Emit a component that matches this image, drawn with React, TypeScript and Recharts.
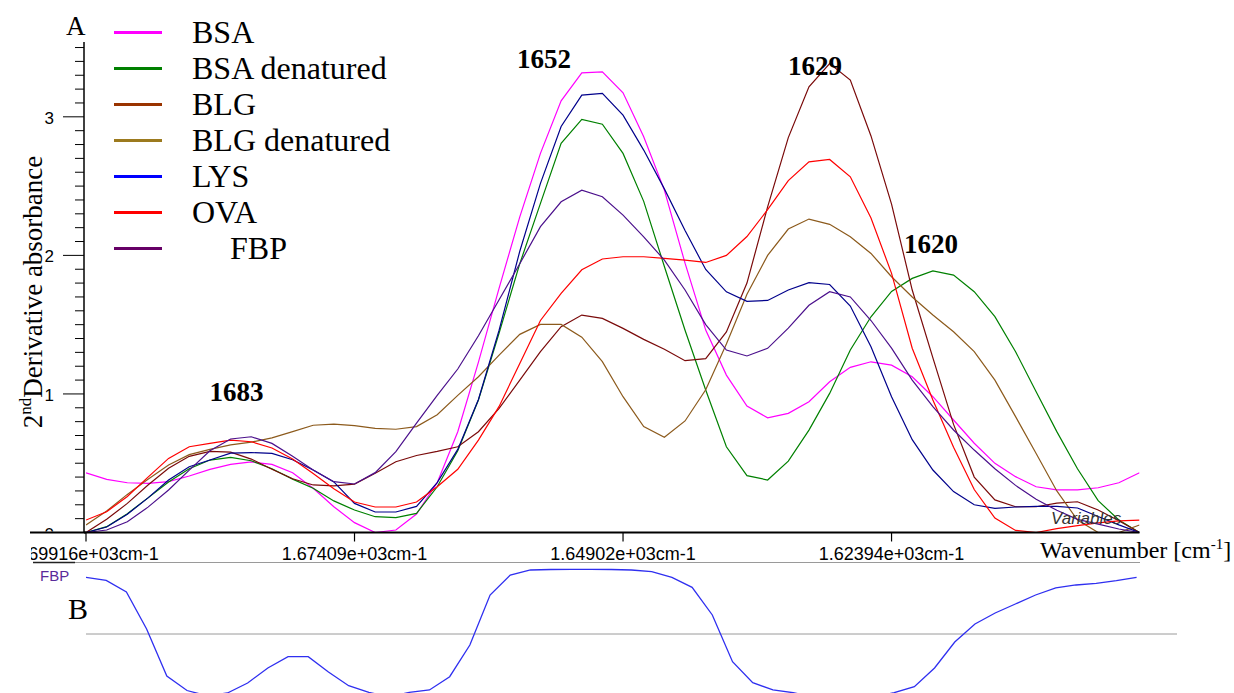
import React from 'react';
import { LineChart, Line, XAxis, YAxis, ReferenceDot, ReferenceLine, Legend } from 'recharts';

// ---- Panel A data: 2nd derivative spectra (x = wavenumber, cm-1) ----
const wavenumbers = [
  1699.16, 1697.23, 1695.30, 1693.37, 1691.45, 1689.52, 1687.59, 1685.66, 1683.73, 1681.80,
  1679.87, 1677.95, 1676.02, 1674.09, 1672.16, 1670.23, 1668.30, 1666.37, 1664.45, 1662.52,
  1660.59, 1658.66, 1656.73, 1654.80, 1652.87, 1650.95, 1649.02, 1647.09, 1645.16, 1643.23,
  1641.30, 1639.37, 1637.45, 1635.52, 1633.59, 1631.66, 1629.73, 1627.80, 1625.87, 1623.95,
  1622.02, 1620.09, 1618.16, 1616.23, 1614.30, 1612.37, 1610.45, 1608.52, 1606.59, 1604.66,
  1602.73, 1600.80,
];

const bsa = [
  0.431, 0.384, 0.359, 0.355, 0.367, 0.408, 0.456, 0.492, 0.509, 0.492,
  0.431, 0.319, 0.186, 0.071, 0.0, 0.018, 0.133, 0.36, 0.727, 1.23,
  1.764, 2.278, 2.736, 3.115, 3.317, 3.325, 3.173, 2.856, 2.471, 1.944,
  1.461, 1.136, 0.913, 0.828, 0.86, 0.944, 1.088, 1.192, 1.232, 1.208,
  1.124, 0.98, 0.812, 0.644, 0.499, 0.403, 0.33, 0.307, 0.307, 0.323,
  0.359, 0.431,
];
const bsaDenatured = [
  0.0, 0.042, 0.136, 0.25, 0.365, 0.46, 0.523, 0.542, 0.518, 0.46,
  0.385, 0.32, 0.228, 0.162, 0.114, 0.107, 0.138, 0.33, 0.59, 0.956,
  1.44, 1.94, 2.375, 2.808, 2.981, 2.947, 2.736, 2.39, 1.92, 1.46,
  1.028, 0.619, 0.41, 0.379, 0.515, 0.739, 1.004, 1.317, 1.557, 1.74,
  1.834, 1.888, 1.858, 1.738, 1.558, 1.305, 1.016, 0.728, 0.46, 0.23,
  0.09, 0.0,
];
const blg = [
  0.0, 0.095, 0.21, 0.343, 0.463, 0.55, 0.585, 0.58, 0.53, 0.457,
  0.388, 0.343, 0.336, 0.349, 0.427, 0.511, 0.556, 0.585, 0.619, 0.727,
  0.896, 1.1, 1.305, 1.485, 1.569, 1.545, 1.473, 1.394, 1.322, 1.24,
  1.255, 1.448, 1.8, 2.35, 2.85, 3.217, 3.385, 3.265, 2.862, 2.37,
  1.75, 1.26, 0.78, 0.4, 0.235, 0.186, 0.186, 0.212, 0.222, 0.162,
  0.085, 0.0,
];
const blgDenatured = [
  0.054, 0.155, 0.275, 0.385, 0.487, 0.562, 0.6, 0.633, 0.652, 0.683,
  0.728, 0.774, 0.782, 0.771, 0.752, 0.745, 0.764, 0.85, 0.99, 1.124,
  1.28, 1.43, 1.502, 1.502, 1.41, 1.233, 0.98, 0.764, 0.687, 0.805,
  1.03, 1.36, 1.72, 2.0, 2.19, 2.262, 2.224, 2.134, 2.014, 1.846,
  1.7, 1.57, 1.449, 1.305, 1.1, 0.836, 0.57, 0.3, 0.09, 0.0,
  0.0, 0.054,
];
const lys = [
  0.0, 0.04, 0.132, 0.25, 0.379, 0.475, 0.523, 0.573, 0.577, 0.571,
  0.525, 0.451, 0.365, 0.21, 0.148, 0.148, 0.188, 0.36, 0.6, 0.96,
  1.46, 2.03, 2.52, 2.93, 3.157, 3.169, 3.012, 2.76, 2.48, 2.18,
  1.898, 1.737, 1.668, 1.675, 1.75, 1.803, 1.79, 1.634, 1.34, 0.98,
  0.67, 0.451, 0.295, 0.2, 0.174, 0.184, 0.188, 0.188, 0.177, 0.115,
  0.055, 0.0,
];
const ova = [
  0.09, 0.15, 0.26, 0.4, 0.535, 0.619, 0.643, 0.667, 0.655, 0.61,
  0.53, 0.425, 0.315, 0.22, 0.184, 0.184, 0.22, 0.33, 0.456, 0.667,
  0.91, 1.22, 1.53, 1.726, 1.896, 1.974, 1.99, 1.99, 1.978, 1.966,
  1.949, 2.0, 2.136, 2.33, 2.54, 2.675, 2.692, 2.567, 2.27, 1.87,
  1.33, 0.956, 0.615, 0.31, 0.104, 0.015, 0.0, 0.028, 0.05, 0.07,
  0.084, 0.09,
];
const fbp = [
  0.0, 0.018, 0.078, 0.183, 0.307, 0.45, 0.59, 0.675, 0.691, 0.643,
  0.55, 0.451, 0.367, 0.35, 0.432, 0.583, 0.79, 0.99, 1.18, 1.42,
  1.68, 1.94, 2.207, 2.387, 2.471, 2.423, 2.291, 2.134, 1.966, 1.75,
  1.5, 1.317, 1.274, 1.329, 1.475, 1.64, 1.738, 1.7, 1.53, 1.33,
  1.1, 0.908, 0.74, 0.595, 0.46, 0.34, 0.24, 0.16, 0.095, 0.06,
  0.025, 0.0,
];

const seriesNames = ['BSA', 'BSA denatured', 'BLG', 'BLG denatured', 'LYS', 'OVA', 'FBP'];
const seriesValues = [bsa, bsaDenatured, blg, blgDenatured, lys, ova, fbp];
const lineColors = ['#ff00ff', '#008000', '#7a0a0a', '#8c5a1c', '#00008b', '#ff0000', '#4b108c'];
const legendColors = ['#ff00ff', '#008000', '#993300', '#9c7a1e', '#0000ff', '#ff0000', '#660066'];

const xTickValues = [1699.16, 1674.09, 1649.02, 1623.95];
const xTickLabels = ['1.69916e+03cm-1', '1.67409e+03cm-1', '1.64902e+03cm-1', '1.62394e+03cm-1'];
const yTicks = [
  0, 0.1, 0.2, 0.3, 0.4, 0.5, 0.6, 0.7, 0.8, 0.9,
  1, 1.1, 1.2, 1.3, 1.4, 1.5, 1.6, 1.7, 1.8, 1.9,
  2, 2.1, 2.2, 2.3, 2.4, 2.5, 2.6, 2.7, 2.8, 2.9,
  3, 3.1, 3.2, 3.3, 3.4, 3.5,
];

const peakLabels = ['1683', '1652', '1629', '1620'];
const peakWavenumbers = [1685.11, 1656.4, 1631.1, 1620.27];
const peakHeights = [1.021, 3.42, 3.373, 2.089];

// ---- Panel B data: FBP loading over variables ----
const fbpLoading = [
  0.0945, 0.0892, 0.07, 0.0083, -0.07, -0.0942, -0.103, -0.0983, -0.0817, -0.0567,
  -0.0378, -0.0378, -0.0633, -0.0862, -0.0972, -0.105, -0.0972, -0.0933, -0.0712, -0.0183,
  0.065, 0.0983, 0.1067, 0.1075, 0.1078, 0.1078, 0.1075, 0.1067, 0.1038, 0.0945,
  0.0778, 0.0317, -0.0462, -0.0812, -0.0933, -0.0978, -0.105, -0.108, -0.108, -0.105,
  -0.0978, -0.0878, -0.0567, -0.0133, 0.0167, 0.035, 0.05, 0.065, 0.0767, 0.0817,
  0.0845, 0.0888, 0.0945,
];

const dataA = wavenumbers.map((wn, i) => {
  const row: Record<string, number> = { wn };
  seriesNames.forEach((name, k) => {
    row[name] = seriesValues[k][i];
  });
  return row;
});
const dataB = fbpLoading.map((v, i) => ({ idx: i, FBP: v }));

const SERIF = "'Liberation Serif', 'Times New Roman', serif";
const SANS = "'Liberation Sans', Arial, sans-serif";

const YTick = (props: any) => {
  const { x, y, payload } = props;
  const v = payload.value as number;
  const major = Math.abs(v - Math.round(v)) < 1e-6;
  const isZero = Math.abs(v) < 1e-6;
  return (
    <g>
      <line x1={x - (major ? 21 : 9)} x2={x} y1={y} y2={y} stroke="#000" strokeWidth={1} />
      {major && isZero && (
        <defs>
          <clipPath id="yZeroClip">
            <rect x={0} y={y - 40} width={x} height={39} />
          </clipPath>
        </defs>
      )}
      {major && (
        <text
          x={x - 30}
          y={y + 7}
          textAnchor="end"
          fontFamily={SANS}
          fontSize={17}
          fill="#000"
          clipPath={isZero ? 'url(#yZeroClip)' : undefined}
        >
          {Math.round(v)}
        </text>
      )}
    </g>
  );
};

const XTick = (props: any) => {
  const { x, y, payload } = props;
  let best = 0;
  xTickValues.forEach((t, k) => {
    if (Math.abs(t - payload.value) < Math.abs(xTickValues[best] - payload.value)) best = k;
  });
  const id = `xTickClip${best}`;
  return (
    <g>
      <line x1={x} x2={x} y1={y} y2={y + 9} stroke="#000" strokeWidth={1.2} />
      <defs>
        <clipPath id={id}>
          <rect x={31} y={y} width={1300} height={60} />
        </clipPath>
      </defs>
      <text x={x} y={y + 27} textAnchor="middle" fontFamily={SANS} fontSize={18} fill="#000" clipPath={`url(#${id})`}>
        {xTickLabels[best]}
      </text>
    </g>
  );
};

const LegendBox = () => (
  <div style={{ display: 'flex', flexDirection: 'column' }}>
    {seriesNames.map((name, k) => (
      <div key={name} style={{ display: 'flex', alignItems: 'center', height: 36 }}>
        <div style={{ width: 48, height: 3, background: legendColors[k] }} />
        <div
          style={{
            marginLeft: name === 'FBP' ? 68 : 30,
            fontFamily: SERIF,
            fontSize: 32,
            lineHeight: '36px',
            color: '#000',
            whiteSpace: 'nowrap',
          }}
        >
          {name}
        </div>
      </div>
    ))}
  </div>
);

export default function App() {
  return (
    <div
      style={{
        position: 'absolute',
        left: 0,
        top: 0,
        width: 1234,
        height: 693,
        overflow: 'hidden',
        background: '#fff',
      }}
    >
      <div style={{ position: 'absolute', left: 0, top: 0 }}>
        <LineChart width={1234} height={565} data={dataA} margin={{ top: 42, right: 94.5, bottom: 2.5, left: 24 }}>
          <XAxis
            dataKey="wn"
            type="number"
            domain={[1600.8, 1699.16]}
            allowDataOverflow
            reversed
            ticks={xTickValues}
            interval={0}
            tick={<XTick />}
            tickLine={false}
            tickSize={0}
            tickMargin={0}
            height={30}
            padding={{ left: 2, right: 0 }}
            axisLine={{ stroke: '#000', strokeWidth: 2 }}
          />
          <YAxis
            type="number"
            domain={[0, 3.54]}
            allowDataOverflow
            ticks={yTicks}
            interval={0}
            tick={<YTick />}
            tickLine={false}
            tickSize={0}
            tickMargin={0}
            width={60}
            axisLine={{ stroke: '#000', strokeWidth: 1.5 }}
          />
          {peakLabels.map((t, k) => (
            <ReferenceDot
              key={t}
              x={peakWavenumbers[k]}
              y={peakHeights[k]}
              r={0}
              fill="none"
              stroke="none"
              label={{
                value: t,
                position: 'center',
                fontSize: 27,
                fontWeight: 700,
                fontFamily: SERIF,
                fill: '#000',
              }}
            />
          ))}
          {seriesNames.map((name, k) => (
            <Line
              key={name}
              type="linear"
              dataKey={name}
              name={name}
              stroke={lineColors[k]}
              strokeWidth={1.2}
              dot={false}
              activeDot={false}
              isAnimationActive={false}
            />
          ))}
          <Legend
            layout="vertical"
            align="center"
            verticalAlign="middle"
            content={() => <LegendBox />}
            wrapperStyle={{ left: 114, top: 14, width: 330, height: 260 }}
          />
        </LineChart>
      </div>

      <div style={{ position: 'absolute', left: 0, top: 540 }}>
        <LineChart width={1234} height={180} data={dataB} margin={{ top: 22, right: 57, bottom: 14, left: 86 }}>
          <XAxis dataKey="idx" type="number" domain={[0, 54]} allowDataOverflow hide />
          <YAxis type="number" domain={[-0.12, 0.12]} allowDataOverflow hide />
          <ReferenceLine y={0} stroke="#9a9a9a" strokeWidth={1} />
          <Line
            type="linear"
            dataKey="FBP"
            stroke="#2f2ff0"
            strokeWidth={1.3}
            dot={false}
            activeDot={false}
            isAnimationActive={false}
          />
        </LineChart>
      </div>

      <svg
        width={1234}
        height={693}
        style={{ position: 'absolute', left: 0, top: 0, pointerEvents: 'none' }}
      >
        <line x1={30} x2={86} y1={532.5} y2={532.5} stroke="#000" strokeWidth={2} />
        <line x1={75} x2={1140} y1={562.5} y2={562.5} stroke="#9a9a9a" strokeWidth={1} />
        <line x1={33} x2={75} y1={562.5} y2={562.5} stroke="#222" strokeWidth={1.5} />
        <text x={66} y={35} fontFamily={SERIF} fontSize={27} fill="#000">A</text>
        <text x={68} y={619} fontFamily={SERIF} fontSize={30} fill="#000">B</text>
        <text x={40} y={581} fontFamily={SANS} fontSize={15} fill="#5a2a9a">FBP</text>
        <text x={1051} y={524} fontFamily={SANS} fontSize={17} fontStyle="italic" fill="#333">Variables</text>
        <text x={1040} y={558} fontFamily={SERIF} fontSize={24} fill="#000">
          Wavenumber [cm
          <tspan fontSize={15} dy={-9}>-1</tspan>
          <tspan dy={9}>]</tspan>
        </text>
        <text transform="translate(42, 292) rotate(-90)" textAnchor="middle" fontFamily={SERIF} fontSize={27} fill="#000">
          2<tspan fontSize={17} dy={-11}>nd</tspan>
          <tspan dy={11}>Derivative absorbance</tspan>
        </text>
      </svg>
    </div>
  );
}
